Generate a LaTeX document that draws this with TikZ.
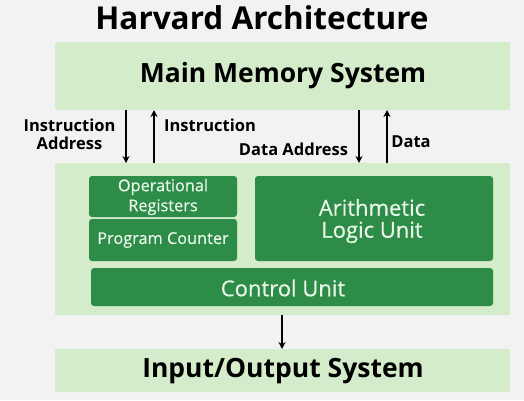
\documentclass[tikz,border=0pt]{standalone}
\usepackage{fontspec}
\usetikzlibrary{arrows.meta}
\setmainfont{Open Sans}
\definecolor{bgc}{HTML}{F2F2F2}
\definecolor{lgreen}{HTML}{D5ECCB}
\definecolor{dgreen}{HTML}{2C8C48}
\definecolor{wtxt}{HTML}{EAF7E8}
\begin{document}
\begin{tikzpicture}[x=1pt,y=-1pt,
  lbox/.style={fill=lgreen,draw=none,rounded corners=2pt},
  dbox/.style={fill=dgreen,draw=none,rounded corners=3pt},
  btxt/.style={text=black,font=\fontsize{26.5}{30}\selectfont\bfseries},
  wsmall/.style={text=wtxt,font=\fontsize{16.3}{20}\selectfont\addfontfeature{FakeBold=0.4},align=center},
  wbig/.style={text=wtxt,font=\fontsize{22}{22}\selectfont\addfontfeature{FakeBold=0.4},align=center},
  lab/.style={text=black,font=\fontsize{16.5}{18}\selectfont\bfseries,align=center},
  arr/.style={-{Stealth[length=7pt,width=7pt]},line width=1.4pt,black}]
\fill[bgc] (0,0) rectangle (524,400);
\useasboundingbox (0,0) rectangle (524,400);
\node[font=\fontsize{31.5}{34}\selectfont\bfseries] (title) at (262,18) {Harvard Architecture};
% boxes
\path[lbox] (55,42) rectangle (510,110);
\node[btxt] (mem) at (283,76) {Main Memory System};
\path[lbox] (55,163) rectangle (510,315);
\coordinate (cpu) at (282.5,239);
\path[lbox] (55,349) rectangle (510,392);
\node[btxt] (io) at (283,371) {Input/Output System};
\path[dbox] (89,176) rectangle (237,217);
\node[wsmall] (reg) at (163,197) {Operational\\Registers};
\path[dbox] (89,219) rectangle (237,261);
\node[wsmall] (pc) at (163,240) {Program Counter};
\path[dbox] (255,176) rectangle (493,261);
\node[wbig] (alu) at (372,221) {Arithmetic\\Logic Unit};
\path[dbox] (91,268) rectangle (493,306);
\node[wbig] (cu) at (283,288) {Control Unit};
% arrows
\coordinate (a1s) at (126,110); \coordinate (a1e) at (126,163);
\coordinate (a2s) at (154,163); \coordinate (a2e) at (154,110);
\coordinate (a3s) at (359,110); \coordinate (a3e) at (359,163);
\coordinate (a4s) at (387,163); \coordinate (a4e) at (387,110);
\coordinate (a5s) at (282,315); \coordinate (a5e) at (282,349);
\draw[arr] (a1s) -- (a1e);
\draw[arr] (a2s) -- (a2e);
\draw[arr] (a3s) -- (a3e);
\draw[arr] (a4s) -- (a4e);
\draw[arr] (a5s) -- (a5e);
\node[lab] (l1) at (69.5,134) {Instruction\\Address};
\node[lab] (l2) at (210,125) {Instruction};
\node[lab] (l3) at (293.5,149) {Data Address};
\node[lab] (l4) at (411,142) {Data};
\end{tikzpicture}
\end{document}
